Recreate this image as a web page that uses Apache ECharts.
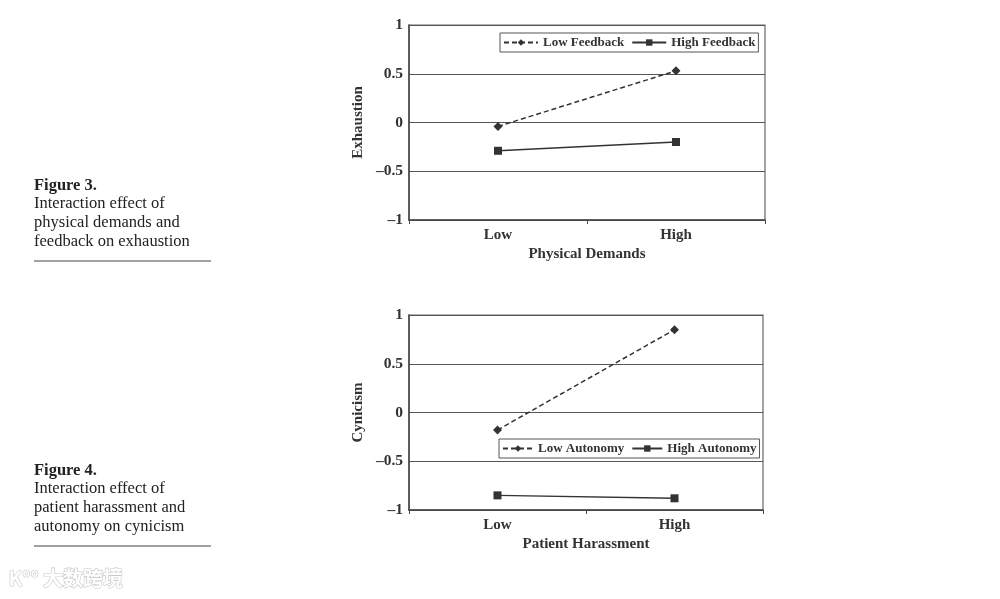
<!DOCTYPE html>
<html><head><meta charset="utf-8">
<script src="https://cdn.jsdelivr.net/npm/echarts@6/dist/echarts.min.js"></script>
<style>html,body{margin:0;padding:0;background:#fff}#c{width:1000px;height:599px}</style>
</head><body><div id="c"></div>
<script>
const categories1 = ['Low', 'High'];
const lowFeedback = [-0.04, 0.53];
const highFeedback = [-0.29, -0.20];
const categories2 = ['Low', 'High'];
const lowAutonomy = [-0.18, 0.85];
const highAutonomy = [-0.85, -0.88];
const yTicks = [-1, -0.5, 0, 0.5, 1];

const serif = '"Liberation Serif", "DejaVu Serif", serif';
const chart = echarts.init(document.getElementById('c'));
const fmt = v => (v < 0 ? '\u2013' + Math.abs(v) : String(v));

function xAxis(idx, cats, name) {
  return {
    type: 'category', gridIndex: idx, data: cats, boundaryGap: true,
    name: name, nameLocation: 'middle', nameGap: 27,
    nameTextStyle: {fontFamily: serif, fontWeight: 'bold', fontSize: 15, color: '#333'},
    axisLine: {onZero: false, lineStyle: {color: '#444', width: 1.5}},
    axisTick: {show: true, length: 4, lineStyle: {color: '#444'}},
    axisLabel: {fontFamily: serif, fontWeight: 'bold', fontSize: 15, color: '#333', margin: 8}
  };
}
function yAxis(idx, name) {
  return {
    type: 'value', gridIndex: idx, min: -1, max: 1, interval: 0.5,
    name: name, nameLocation: 'middle', nameGap: 43,
    nameTextStyle: {fontFamily: serif, fontWeight: 'bold', fontSize: 15, color: '#333'},
    axisLine: {show: true, lineStyle: {color: '#444', width: 1.5}},
    axisTick: {show: false},
    splitLine: {show: true, lineStyle: {color: '#555', width: 1.2}},
    axisLabel: {fontFamily: serif, fontWeight: 'bold', fontSize: 15.5, color: '#333', margin: 6,
      formatter: v => yTicks.includes(v) ? fmt(v) : ''}
  };
}
function legend(top, left, names, iw) {
  return {
    top: top, left: left, width: 320, data: names, orient: 'horizontal',
    borderColor: '#555', borderWidth: 1, padding: [3, 3], itemGap: 7,
    itemWidth: iw, itemHeight: 8,
    textStyle: {fontFamily: serif, fontWeight: 'bold', fontSize: 13, color: '#333'}
  };
}
function series(name, data, xi, dashed, sym) {
  return {
    name: name, type: 'line', xAxisIndex: xi, yAxisIndex: xi, data: data,
    symbol: sym, symbolSize: sym === 'diamond' ? 9 : 8,
    itemStyle: {color: '#333'},
    lineStyle: {color: '#333', width: 1.5, type: dashed ? [5, 3] : 'solid'},
    animation: false
  };
}

chart.setOption({
  animation: false,
  grid: [
    {left: 409, top: 25, width: 356, height: 195, show: true, borderColor: '#666', borderWidth: 1.2},
    {left: 409, top: 315, width: 354, height: 195, show: true, borderColor: '#666', borderWidth: 1.2}
  ],
  xAxis: [xAxis(0, categories1, 'Physical Demands'), xAxis(1, categories2, 'Patient Harassment')],
  yAxis: [yAxis(0, 'Exhaustion'), yAxis(1, 'Cynicism')],
  legend: [
    legend(33, 500, ['Low Feedback', 'High Feedback'], 34),
    legend(439, 499, ['Low Autonomy', 'High Autonomy'], 30)
  ],
  series: [
    series('Low Feedback', lowFeedback, 0, true, 'diamond'),
    series('High Feedback', highFeedback, 0, false, 'rect'),
    series('Low Autonomy', lowAutonomy, 1, true, 'diamond'),
    series('High Autonomy', highAutonomy, 1, false, 'rect')
  ],
  graphic: [
    {type: 'text', left: 34, top: 177, style: {text: 'Figure 3.', font: 'bold 16.5px ' + serif, fill: '#222'}},
    {type: 'text', left: 34, top: 194, style: {text: 'Interaction effect of\nphysical demands and\nfeedback on exhaustion', font: '16.5px ' + serif, fill: '#222', lineHeight: 19}},
    {type: 'line', shape: {x1: 34, y1: 261, x2: 211, y2: 261}, style: {stroke: '#444', lineWidth: 1.2}},
    {type: 'text', left: 34, top: 462, style: {text: 'Figure 4.', font: 'bold 16.5px ' + serif, fill: '#222'}},
    {type: 'text', left: 34, top: 479, style: {text: 'Interaction effect of\npatient harassment and\nautonomy on cynicism', font: '16.5px ' + serif, fill: '#222', lineHeight: 19}},
    {type: 'line', shape: {x1: 34, y1: 546, x2: 211, y2: 546}, style: {stroke: '#444', lineWidth: 1.2}},
    {type: 'text', left: 8, top: 568, style: {text: 'K\u00b0\u00b0 大数跨境', font: 'bold 20px "Noto Sans CJK SC", sans-serif', fill: '#fff', stroke: '#c8c8c8', lineWidth: 1.2}}
  ]
});
</script></body></html>
